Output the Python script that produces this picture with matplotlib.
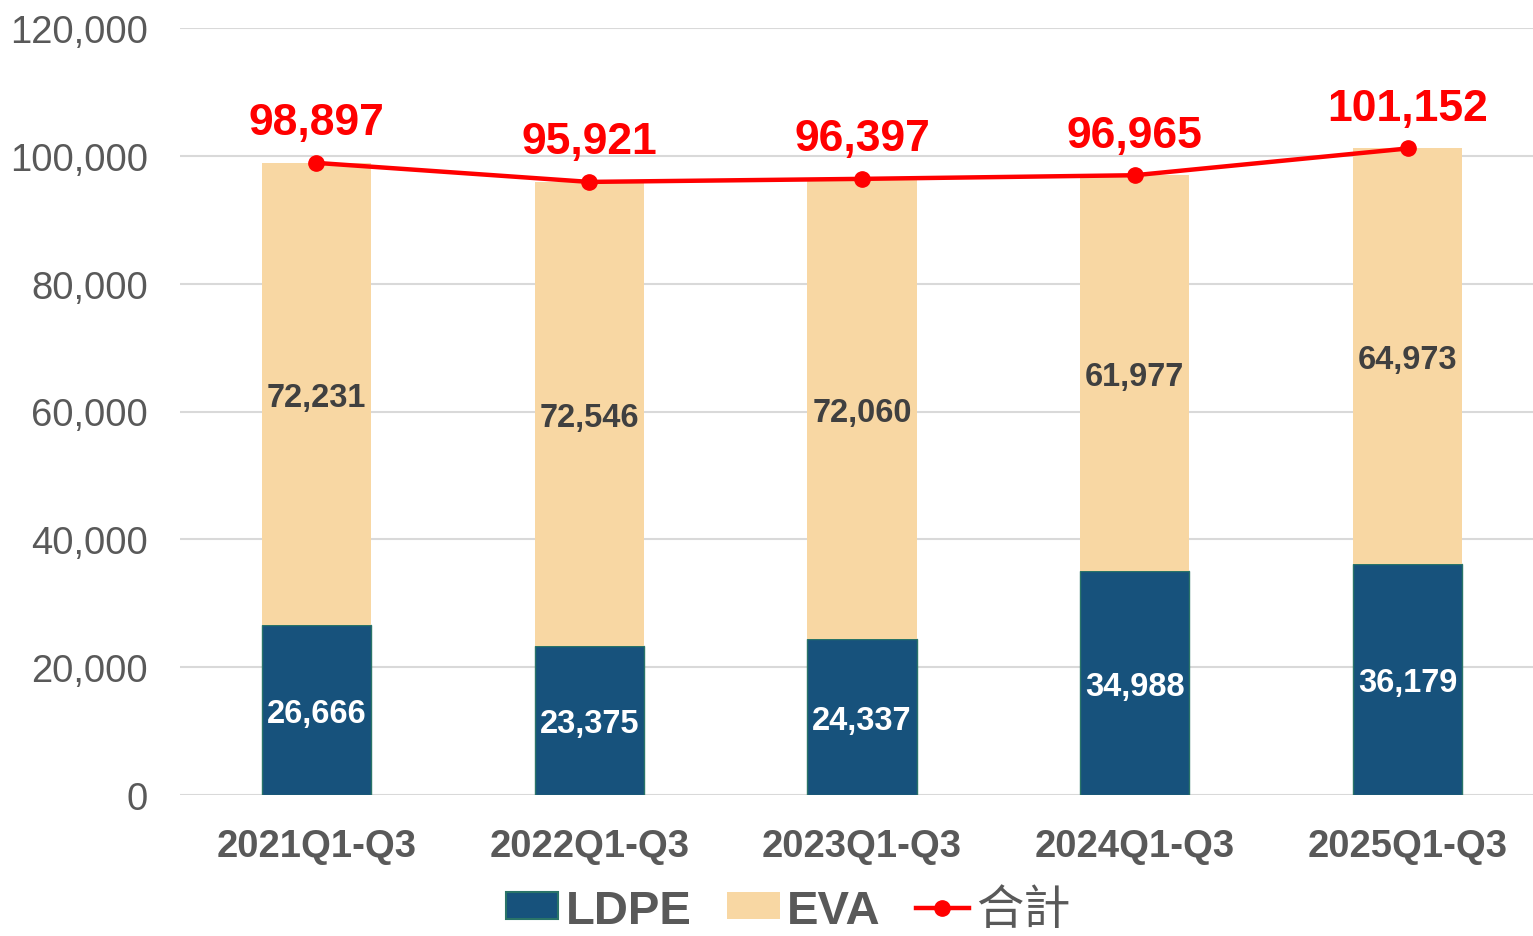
import numpy as np
import matplotlib.pyplot as plt
from matplotlib.patches import Patch
from matplotlib.lines import Line2D

# data
categories = ["2021Q1-Q3", "2022Q1-Q3", "2023Q1-Q3", "2024Q1-Q3", "2025Q1-Q3"]
ldpe = [26666, 23375, 24337, 34988, 36179]
eva = [72231, 72546, 72060, 61977, 64973]
total = [98897, 95921, 96397, 96965, 101152]

plt.rcParams['font.family'] = ['Liberation Sans', 'Noto Sans CJK TC', 'DejaVu Sans']

c_ldpe = "#17527C"
c_eva = "#F8D7A3"
c_grey = "#595959"

fig = plt.figure(figsize=(15.33, 9.37), dpi=100)
ax = fig.add_axes([180 / 1533, 1 - 796 / 937, 1 - 180 / 1533, (796 - 29) / 937])

x = np.arange(len(categories))
w = 0.40
ax.bar(x, ldpe, w, color=c_ldpe, edgecolor="#2A7468", linewidth=1, zorder=2)
ax.bar(x, eva, w, bottom=ldpe, color=c_eva, edgecolor="none", zorder=2)
ax.plot(x, total, color="#FF0000", lw=3.2, marker="o", ms=11, zorder=3)

for i in range(len(x)):
    ax.text(x[i], ldpe[i] / 2, f"{ldpe[i]:,}", ha="center", va="center_baseline",
            color="white", fontsize=23.5, fontweight="bold", zorder=4)
    ax.text(x[i], ldpe[i] + eva[i] / 2, f"{eva[i]:,}", ha="center", va="center_baseline",
            color="#404040", fontsize=23.5, fontweight="bold", zorder=4)
    ax.annotate(f"{total[i]:,}", (x[i], total[i]), xytext=(0, 14),
                textcoords="offset points", ha="center", va="bottom",
                color="#FF0000", fontsize=32, fontweight="bold", zorder=4)

ax.set_ylim(0, 120000)
ax.set_xlim(-0.5, 4.46)
ax.set_yticks(np.arange(0, 120001, 20000))
ax.set_yticklabels([f"{v:,}" for v in range(0, 120001, 20000)])
ax.set_xticks(x)
ax.set_xticklabels(categories, fontweight="bold")
ax.tick_params(axis="y", length=0, labelsize=27.5, labelcolor=c_grey, pad=23)
ax.tick_params(axis="x", length=0, labelsize=27.5, labelcolor=c_grey, pad=24)
ax.grid(axis="y", color="#D9D9D9", lw=1.5, zorder=0)
for s in ax.spines.values():
    s.set_visible(False)

handles = [Patch(facecolor=c_ldpe, edgecolor="#2A7468", linewidth=1.5),
           Patch(facecolor=c_eva, edgecolor="none"),
           Line2D([0], [0], color="#FF0000", lw=3.2, marker="o", ms=11)]
leg = fig.legend(handles, ["LDPE", "EVA", "合計"], loc="center",
                 bbox_to_anchor=(0.514, 0.027), ncol=3, frameon=False,
                 prop={"size": 34, "weight": "bold"}, handlelength=1.12,
                 handleheight=0.5, handletextpad=0.15, columnspacing=0.75,
                 borderpad=0.1)
for t in leg.get_texts():
    t.set_color(c_grey)
leg.get_texts()[2].set_fontweight("normal")

fig.savefig("out.png", dpi=100)
